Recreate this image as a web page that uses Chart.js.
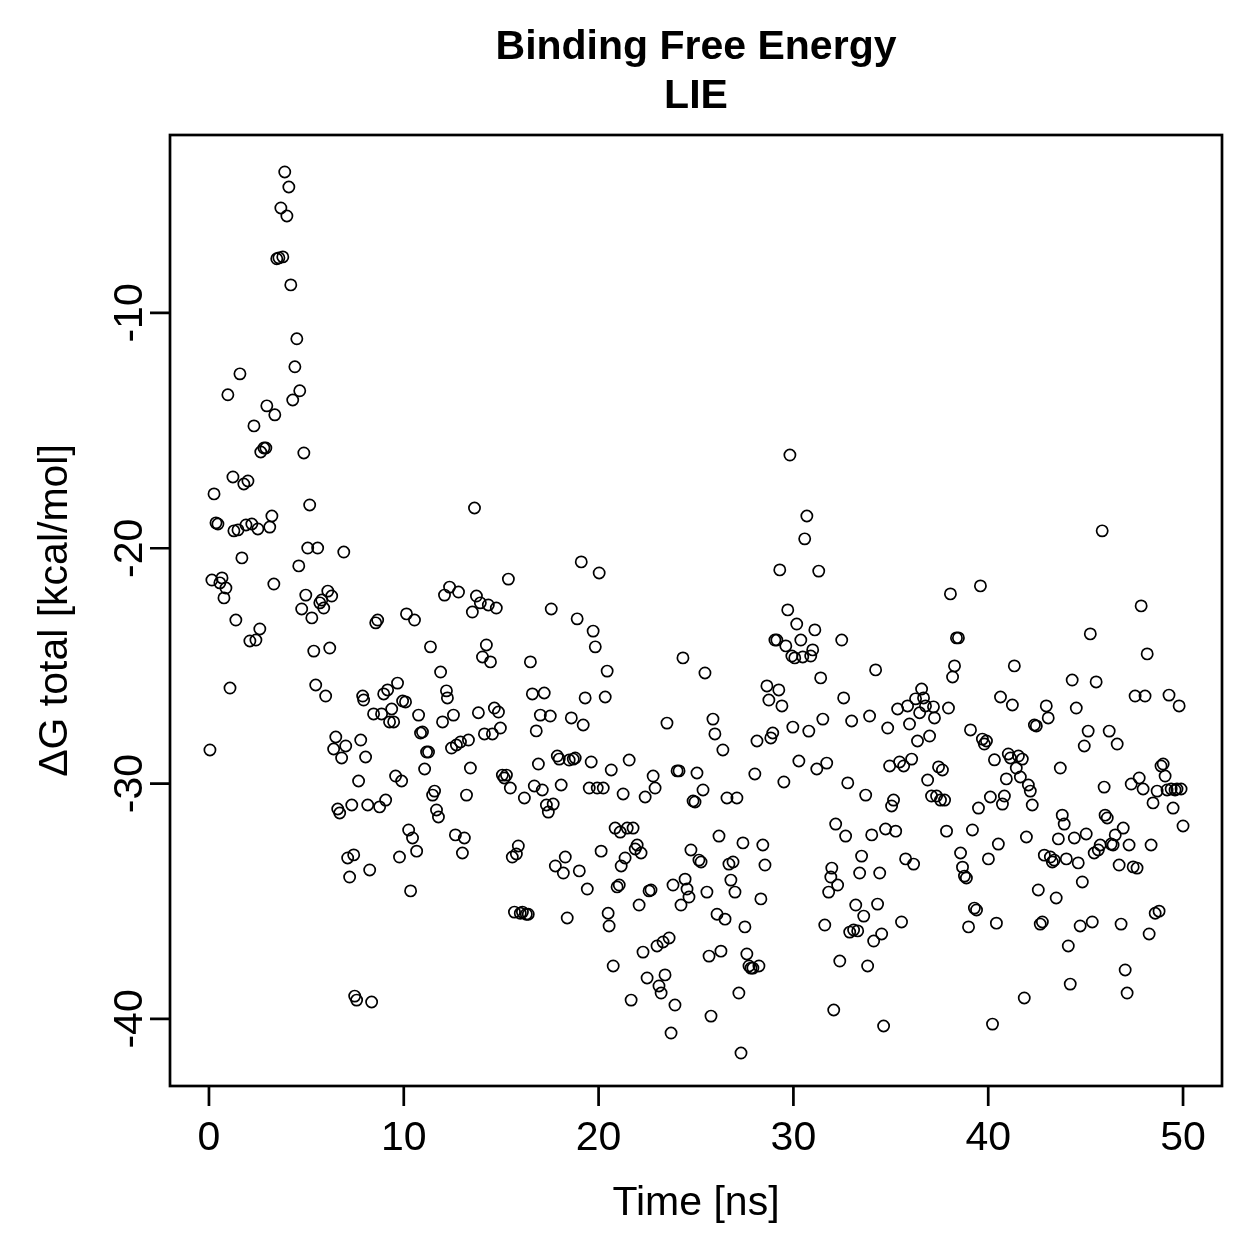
<!DOCTYPE html>
<html>
<head>
<meta charset="utf-8">
<script src="https://cdn.jsdelivr.net/npm/chart.js@4/dist/chart.umd.min.js"></script>
<style>
  html, body { margin: 0; padding: 0; background: #fff; }
  #wrap { width: 1259px; height: 1259px; }
</style>
</head>
<body>
<div id="wrap"><canvas id="lie" width="1259" height="1259"></canvas></div>
<script>
// time of each frame [ns]
const timeNs = [
  0.05,0.15,0.26,0.36,0.46,0.56,0.67,0.77,0.87,0.97,1.08,1.23,1.28,1.38,1.49,1.59,1.69,1.79,1.90,2.00,
  2.10,2.20,2.31,2.41,2.51,2.61,2.66,2.82,2.92,2.97,3.12,3.23,3.33,3.38,3.48,3.59,3.69,3.79,3.89,4.00,
  4.10,4.20,4.30,4.41,4.51,4.61,4.66,4.76,4.87,4.97,5.07,5.17,5.28,5.38,5.48,5.58,5.69,5.79,5.89,5.99,
  6.10,6.20,6.30,6.40,6.51,6.61,6.71,6.81,6.92,7.02,7.12,7.22,7.33,7.43,7.48,7.58,7.68,7.79,7.89,7.94,
  8.04,8.15,8.25,8.35,8.45,8.56,8.66,8.76,8.86,8.97,9.07,9.17,9.27,9.38,9.48,9.58,9.68,9.78,9.89,9.94,
  10.09,10.14,10.25,10.35,10.45,10.55,10.66,10.76,10.86,10.96,11.07,11.17,11.27,11.37,11.48,11.58,11.68,11.78,11.89,11.99,
  12.09,12.19,12.24,12.35,12.45,12.55,12.65,12.70,12.81,12.91,13.01,13.11,13.22,13.32,13.42,13.52,13.63,13.73,13.83,13.93,
  14.04,14.14,14.24,14.34,14.45,14.55,14.65,14.75,14.86,14.96,15.06,15.16,15.27,15.37,15.47,15.57,15.68,15.78,15.88,15.98,
  16.09,16.19,16.29,16.39,16.50,16.60,16.70,16.80,16.91,17.01,17.11,17.21,17.32,17.42,17.52,17.57,17.67,17.78,17.88,17.98,
  18.08,18.19,18.29,18.39,18.49,18.60,18.70,18.80,18.90,19.01,19.11,19.21,19.31,19.42,19.52,19.62,19.72,19.83,19.93,20.03,
  20.13,20.24,20.34,20.44,20.49,20.54,20.65,20.75,20.85,20.95,21.06,21.11,21.16,21.26,21.36,21.47,21.57,21.67,21.77,21.88,
  21.98,22.08,22.18,22.28,22.39,22.49,22.59,22.69,22.80,22.90,23.00,23.10,23.21,23.31,23.41,23.51,23.62,23.72,23.82,23.92,
  24.03,24.13,24.23,24.33,24.44,24.54,24.64,24.74,24.85,24.95,25.05,25.15,25.26,25.36,25.46,25.56,25.67,25.77,25.87,25.97,
  26.08,26.18,26.28,26.38,26.49,26.59,26.69,26.79,26.90,27.00,27.10,27.20,27.31,27.41,27.51,27.61,27.72,27.82,27.92,28.02,
  28.13,28.23,28.33,28.43,28.54,28.64,28.74,28.84,28.94,29.05,29.15,29.25,29.30,29.41,29.51,29.61,29.71,29.82,29.92,29.97,
  30.07,30.17,30.28,30.38,30.48,30.58,30.69,30.79,30.89,30.99,31.10,31.20,31.30,31.40,31.51,31.61,31.71,31.81,31.92,31.97,
  32.07,32.17,32.27,32.38,32.48,32.58,32.68,32.79,32.89,32.99,33.09,33.20,33.30,33.40,33.50,33.61,33.71,33.81,33.91,34.02,
  34.12,34.22,34.32,34.43,34.53,34.63,34.73,34.84,34.94,35.04,35.14,35.25,35.35,35.45,35.55,35.66,35.76,35.86,35.96,36.07,
  36.17,36.27,36.37,36.48,36.58,36.68,36.78,36.89,36.99,37.09,37.19,37.24,37.35,37.45,37.55,37.65,37.76,37.86,37.96,38.06,
  38.17,38.27,38.37,38.47,38.58,38.68,38.78,38.88,38.99,39.09,39.19,39.29,39.40,39.50,39.60,39.70,39.80,39.91,40.01,40.11,
  40.22,40.32,40.42,40.52,40.63,40.73,40.83,40.93,41.03,41.14,41.24,41.34,41.44,41.55,41.65,41.75,41.85,41.96,42.06,42.16,
  42.26,42.37,42.47,42.57,42.67,42.78,42.88,42.98,43.08,43.19,43.29,43.39,43.49,43.60,43.70,43.80,43.90,44.01,44.11,44.21,
  44.31,44.42,44.52,44.62,44.72,44.83,44.93,45.03,45.13,45.24,45.34,45.44,45.54,45.65,45.75,45.85,45.95,46.00,46.11,46.21,
  46.31,46.41,46.52,46.62,46.72,46.82,46.93,47.03,47.13,47.23,47.34,47.44,47.54,47.64,47.75,47.85,47.95,48.05,48.16,48.26,
  48.36,48.46,48.57,48.67,48.77,48.87,48.98,49.08,49.18,49.28,49.39,49.49,49.59,49.69,49.80,49.90,50.00
];

// dG total [kcal/mol]
const dGtotal = [
  -28.57,-21.35,-17.69,-18.92,-18.97,-21.47,-21.26,-22.11,-21.69,-13.48,-25.94,-16.97,-19.26,-23.05,-19.22,-12.59,-20.41,-17.27,-19.01,-17.14,
  -23.94,-18.97,-14.80,-23.90,-19.18,-23.43,-15.91,-15.74,-15.74,-13.95,-19.10,-18.63,-21.52,-14.33,-7.70,-7.66,-5.54,-7.62,-4.01,-5.88,
  -4.65,-8.81,-13.70,-12.29,-11.10,-20.75,-13.31,-22.58,-15.95,-21.99,-19.99,-18.16,-22.96,-24.37,-25.81,-19.99,-22.32,-22.20,-22.54,-26.28,
  -21.82,-24.24,-22.03,-28.53,-28.02,-31.08,-31.25,-28.91,-20.16,-28.40,-33.16,-33.97,-30.91,-33.03,-39.03,-39.20,-29.89,-28.15,-26.28,-26.45,
  -28.87,-30.91,-33.67,-39.28,-27.04,-23.17,-23.05,-30.99,-27.04,-26.19,-30.70,-26.02,-27.38,-26.83,-27.38,-29.68,-25.73,-33.12,-29.89,-26.49,
  -26.53,-22.79,-31.97,-34.56,-32.31,-23.05,-32.87,-27.09,-27.85,-27.81,-29.38,-28.66,-28.66,-24.19,-30.49,-30.32,-31.12,-31.42,-25.26,-27.38,
  -21.99,-26.06,-26.36,-21.65,-28.49,-27.09,-32.18,-28.36,-21.86,-28.23,-32.95,-32.31,-30.49,-28.15,-29.34,-22.71,-18.29,-22.03,-26.99,-22.32,
  -24.62,-27.89,-24.11,-22.41,-24.83,-27.89,-26.79,-22.54,-26.96,-27.64,-29.64,-29.76,-29.64,-21.31,-30.19,-33.12,-35.46,-32.99,-32.65,-35.51,
  -35.46,-30.61,-35.55,-35.55,-24.83,-26.19,-30.10,-27.76,-29.17,-27.09,-30.27,-26.15,-30.91,-31.21,-27.13,-22.58,-30.87,-33.50,-28.83,-28.96,
  -30.06,-33.80,-33.12,-35.71,-29.00,-27.21,-28.96,-28.91,-23.00,-33.71,-20.58,-27.51,-26.36,-34.48,-30.19,-29.08,-23.52,-24.19,-30.19,-21.05,
  -32.87,-30.19,-26.32,-25.22,-35.51,-36.05,-29.42,-37.75,-31.89,-34.39,-34.31,-32.06,-33.50,-30.44,-33.16,-31.89,-29.00,-39.20,-31.89,-32.78,
  -32.61,-35.16,-32.95,-37.16,-30.57,-38.26,-34.56,-34.52,-29.68,-30.19,-36.90,-38.60,-38.90,-36.73,-38.13,-27.43,-36.56,-40.60,-34.31,-39.41,
  -29.46,-29.46,-35.16,-24.66,-34.06,-34.48,-34.82,-32.82,-30.74,-30.78,-29.55,-33.25,-33.33,-30.27,-25.30,-34.61,-37.33,-39.88,-27.26,-27.89,
  -35.55,-32.23,-37.12,-28.57,-35.76,-30.61,-33.42,-34.10,-33.33,-34.61,-30.61,-38.90,-41.45,-32.52,-36.09,-37.24,-37.75,-37.84,-37.84,-29.59,
  -28.19,-37.75,-34.90,-32.61,-33.46,-25.85,-26.45,-28.06,-27.85,-23.90,-23.90,-26.02,-20.92,-26.70,-29.93,-24.15,-22.62,-16.04,-24.58,-27.60,
  -24.66,-23.22,-29.04,-23.90,-24.62,-19.60,-18.63,-27.77,-24.58,-24.32,-23.47,-29.38,-20.97,-25.51,-27.26,-36.01,-29.13,-34.61,-33.97,-33.59,
  -39.62,-31.72,-34.31,-37.54,-23.90,-26.36,-32.23,-29.97,-36.31,-27.34,-36.22,-35.16,-36.26,-33.80,-33.08,-35.63,-30.49,-37.75,-27.13,-32.18,
  -36.69,-25.17,-35.12,-33.80,-36.39,-40.30,-31.93,-27.64,-29.25,-30.95,-30.70,-32.02,-26.83,-29.08,-35.88,-29.25,-33.20,-26.70,-27.47,-28.96,
  -33.42,-26.40,-28.19,-26.99,-25.98,-26.36,-26.70,-29.85,-27.98,-30.53,-26.74,-27.21,-30.53,-29.29,-30.70,-29.42,-30.70,-32.02,-26.79,-21.94,
  -25.47,-25.00,-23.81,-23.81,-32.95,-33.55,-33.93,-34.01,-36.09,-27.72,-31.97,-35.29,-35.37,-31.04,-21.60,-28.11,-28.32,-28.19,-33.20,-30.57,
  -40.22,-28.99,-35.93,-32.57,-26.32,-30.87,-30.53,-29.80,-28.74,-28.91,-26.66,-25.00,-29.34,-28.83,-29.72,-28.96,-39.11,-32.27,-30.06,-30.32,
  -30.91,-27.51,-27.55,-34.52,-35.97,-35.88,-33.04,-26.70,-27.21,-33.12,-33.33,-33.25,-34.86,-32.35,-29.34,-31.34,-31.72,-33.20,-36.90,-38.52,
  -25.60,-32.31,-26.79,-33.37,-36.05,-34.18,-28.40,-32.14,-27.77,-23.64,-35.88,-32.95,-25.68,-32.82,-32.61,-19.26,-30.15,-31.34,-31.46,-27.77,
  -32.57,-32.61,-32.18,-28.32,-33.46,-35.97,-31.89,-37.92,-38.90,-32.61,-30.02,-33.54,-26.28,-33.59,-29.76,-22.45,-30.23,-26.28,-24.49,-36.39,
  -32.61,-30.82,-35.51,-30.32,-35.42,-29.25,-29.17,-29.68,-30.27,-26.24,-30.23,-31.04,-30.27,-30.23,-26.70,-30.23,-31.80
];

const xTicks = [0, 10, 20, 30, 40, 50];
const yTicks = [-10, -20, -30, -40];

const titleLines = ["Binding Free Energy", "LIE"];
const xTitle = "Time [ns]";
const yTitle = "\u0394G total [kcal/mol]";

const points = timeNs.map((t, i) => ({ x: t, y: dGtotal[i] }));

const FONT = "'Liberation Sans', Arial, Helvetica, sans-serif";

// base-graphics style frame, ticks and labels
const rFrame = {
  id: "rFrame",
  afterDraw(chart) {
    const { ctx, chartArea: a, scales } = chart;
    const x = scales.x, y = scales.y;
    ctx.save();
    ctx.strokeStyle = "#000";
    ctx.fillStyle = "#000";
    ctx.lineWidth = 2.7;
    ctx.strokeRect(a.left, a.top, a.right - a.left, a.bottom - a.top);

    ctx.beginPath();
    xTicks.forEach(v => {
      const px = x.getPixelForValue(v);
      ctx.moveTo(px, a.bottom);
      ctx.lineTo(px, a.bottom + 20);
    });
    yTicks.forEach(v => {
      const py = y.getPixelForValue(v);
      ctx.moveTo(a.left, py);
      ctx.lineTo(a.left - 20, py);
    });
    ctx.stroke();

    ctx.font = "41px " + FONT;
    ctx.textAlign = "center";
    ctx.textBaseline = "alphabetic";
    xTicks.forEach(v => {
      ctx.fillText(String(v), x.getPixelForValue(v), 1150);
    });
    yTicks.forEach(v => {
      ctx.save();
      ctx.translate(142, y.getPixelForValue(v));
      ctx.rotate(-Math.PI / 2);
      ctx.fillText(String(v), 0, 0);
      ctx.restore();
    });

    // axis titles
    const cx = (a.left + a.right) / 2;
    const cy = (a.top + a.bottom) / 2;
    ctx.fillText(xTitle, cx, 1215);
    ctx.save();
    ctx.translate(67, cy);
    ctx.rotate(-Math.PI / 2);
    ctx.fillText(yTitle, 0, 0);
    ctx.restore();

    // main title
    ctx.font = "bold 41px " + FONT;
    ctx.fillText(titleLines[0], cx, 59);
    ctx.fillText(titleLines[1], cx, 108);
    ctx.restore();
  }
};

new Chart(document.getElementById("lie"), {
  type: "scatter",
  data: {
    datasets: [{
      data: points,
      pointStyle: "circle",
      radius: 5.6,
      hoverRadius: 5.6,
      borderColor: "#000",
      backgroundColor: "rgba(0,0,0,0)",
      borderWidth: 1.7,
    }],
  },
  options: {
    responsive: false,
    animation: false,
    devicePixelRatio: 1,
    layout: { padding: { left: 170, top: 135, right: 37, bottom: 173 } },
    plugins: { legend: { display: false }, title: { display: false }, tooltip: { enabled: false } },
    scales: {
      x: { type: "linear", display: false, min: -2, max: 52 },
      y: { type: "linear", display: false, min: -42.85, max: -2.44 },
    },
  },
  plugins: [rFrame],
});
</script>
</body>
</html>
